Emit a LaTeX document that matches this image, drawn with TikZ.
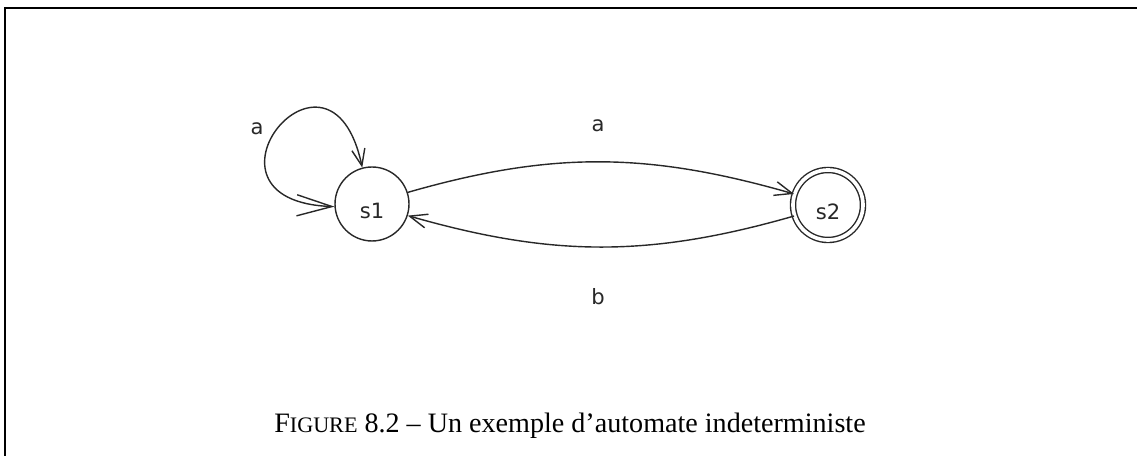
\documentclass[tikz,border=0pt]{standalone}
\usepackage{fontspec}
\setmainfont{Liberation Serif}
\newfontfamily\statefont{DejaVu Sans}
\usetikzlibrary{arrows.meta}
\definecolor{ink}{RGB}{40,40,40}

\begin{document}
\begin{tikzpicture}[
    x=0.02cm, y=0.02cm,
    state/.style={circle, draw=ink, line width=0.8pt, minimum size=1.48cm, inner sep=0pt, text height=17pt, text depth=0pt, font=\statefont\fontsize{12}{14}\selectfont, text=ink},
    accepting/.style={state, double, double distance=2.1pt, minimum size=1.40cm},
    lbl/.style={inner sep=0pt, font=\statefont\fontsize{12}{14}\selectfont, text=ink},
    edge/.style={draw=ink, line width=0.8pt, -{Straight Barb[length=10pt,width=8pt]}},
    caption/.style={anchor=base, inner sep=0pt, font=\fontsize{16}{19}\selectfont}
]
\useasboundingbox (0,0) rectangle (1137,456);

% Frame
\draw[line width=0.9pt] (5,0) -- (5,448) -- (1137,448);

% Nodes
\node[state] (s1) at (372,252) {s1};
\node[accepting] (s2) at (828,251) {s2};

\node[lbl] (loopa) at (257,327) {a};
\node[lbl] (topa) at (598,330) {a};
\node[lbl] (botb) at (598,159) {b};

\node[caption] (cap) at (570,23) {F{\fontsize{12.6}{15}\selectfont IGURE} 8.2 -- Un exemple d'automate indeterministe};

% Edges
\draw[edge] (s1.18) to[out=16, in=164] (s2.162);
\draw[edge] (s2.198) to[out=196, in=-16] (s1.-18);
\draw[edge, {Straight Barb[length=9.5pt,width=7.5pt]}-{Straight Barb[length=20pt,width=12pt]}]
    (s1.105) .. controls +(102:155) and +(178:155) .. (s1.184);

\end{tikzpicture}
\end{document}
